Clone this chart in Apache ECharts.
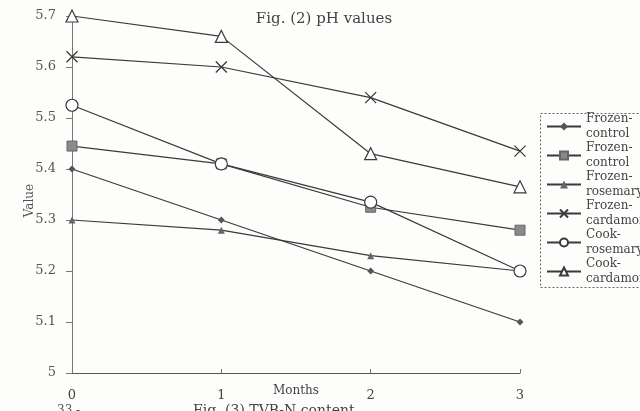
<!DOCTYPE html>
<html>
<head>
<meta charset="utf-8">
<script src="https://cdn.jsdelivr.net/npm/echarts@6/dist/echarts.min.js"></script>
<style>
  html, body { margin: 0; padding: 0; background: #fdfdfc; }
  #chart { width: 640px; height: 411px; }
</style>
</head>
<body>
<div id="chart"></div>
<script>
// Storage months (x axis)
const months = ['0', '1', '2', '3'];

// pH readings per treatment
const frozenControlA = [5.40, 5.30, 5.20, 5.10];
const frozenControlB = [5.445, 5.41, 5.325, 5.28];
const frozenRosemary = [5.30, 5.28, 5.23, 5.20];
const frozenCardamom = [5.62, 5.60, 5.54, 5.435];
const cookRosemary = [5.525, 5.41, 5.335, 5.20];
const cookCardamom = [5.70, 5.66, 5.43, 5.365];

// Legend labels, wrapped the way the printed legend wraps them
const seriesNames = [
  'Frozen-\ncontrol',
  'Frozen-\ncontrol ',
  'Frozen-\nrosemary',
  'Frozen-\ncardamom',
  'Cook-\nrosemary',
  'Cook-\ncardamom'
];

const SERIF = '"DejaVu Serif", "Liberation Serif", serif';
const INK = '#3a3a3a';
const CROSS = 'path://M0,0L10,10M10,0L0,10';

function lineSeries(name, data, symbol, size, itemStyle) {
  return {
    name: name,
    type: 'line',
    data: data,
    symbol: symbol,
    symbolSize: size,
    showAllSymbol: true,
    lineStyle: { color: INK, width: 1.2 },
    itemStyle: itemStyle,
    emphasis: { disabled: true },
    animation: false
  };
}

const chart = echarts.init(document.getElementById('chart'), null, { renderer: 'canvas' });

chart.setOption({
  backgroundColor: '#fdfdfc',
  animation: false,
  title: {
    text: 'Fig. (2) pH values',
    left: 319,
    textAlign: 'center',
    top: 7,
    textStyle: { fontFamily: SERIF, fontSize: 15, fontWeight: 'normal', color: '#444' }
  },
  grid: { left: 72, right: 120, top: 16, bottom: 38 },
  legend: {
    orient: 'vertical',
    left: 546,
    top: 104,
    padding: 0,
    itemGap: -16,
    itemWidth: 34,
    itemHeight: 10,
    selectedMode: false,
    textStyle: {
      fontFamily: SERIF,
      fontSize: 12,
      color: '#444',
      lineHeight: 15,
      padding: [15, 0, 0, 0]
    },
    formatter: function (n) { return n.replace(/ $/, ''); },
    data: seriesNames
  },
  xAxis: {
    type: 'category',
    data: months,
    boundaryGap: false,
    name: 'Months',
    nameLocation: 'middle',
    nameGap: 12,
    nameMoveOverlap: false,
    nameTextStyle: { fontFamily: SERIF, fontSize: 12, color: '#444' },
    axisLine: { lineStyle: { color: '#555', width: 1 } },
    axisTick: { inside: true, length: 4, lineStyle: { color: '#777' } },
    axisLabel: { margin: 16, fontFamily: SERIF, fontSize: 13, color: '#444' },
    splitLine: { show: false }
  },
  yAxis: {
    type: 'value',
    min: 5,
    max: 5.7,
    interval: 0.1,
    name: 'Value',
    nameLocation: 'middle',
    nameGap: 36,
    nameMoveOverlap: false,
    nameTextStyle: { fontFamily: SERIF, fontSize: 12, color: '#555', padding: [0, 12, 0, 0] },
    axisLine: { show: true, lineStyle: { color: '#777', width: 1 } },
    axisTick: { show: true, length: 6, lineStyle: { color: '#777' } },
    axisLabel: {
      margin: 16,
      fontFamily: SERIF,
      fontSize: 13,
      color: '#555',
      formatter: function (v) { return Number(v.toFixed(1)).toString(); }
    },
    splitLine: { show: false }
  },
  graphic: [
    // legend frame
    {
      type: 'rect',
      shape: { x: 540.5, y: 113.5, width: 110, height: 174 },
      style: { fill: 'none', stroke: '#666', lineWidth: 1, lineDash: [2, 2] },
      z: 1
    },
    // neighbouring captions on the printed page
    {
      type: 'text',
      left: 279, top: -10,
      style: { text: 'Months', font: '12px ' + SERIF, fill: '#555' }
    },
    {
      type: 'text',
      left: 193, top: 404,
      style: { text: 'Fig. (3) TVB-N content', font: '14px ' + SERIF, fill: '#444' }
    },
    {
      type: 'text',
      left: 57, top: 405,
      style: { text: '33 -', font: '12px ' + SERIF, fill: '#555' }
    }
  ],
  series: [
    lineSeries(seriesNames[0], frozenControlA, 'diamond', 7, { color: '#555' }),
    lineSeries(seriesNames[1], frozenControlB, 'rect', 10, { color: '#8a8a8a', borderColor: '#666', borderWidth: 1 }),
    lineSeries(seriesNames[2], frozenRosemary, 'triangle', 7, { color: '#666' }),
    lineSeries(seriesNames[3], frozenCardamom, CROSS, 11, { color: 'transparent', borderColor: INK, borderWidth: 1.3 }),
    lineSeries(seriesNames[4], cookRosemary, 'circle', 12, { color: '#fff', borderColor: INK, borderWidth: 1.2 }),
    lineSeries(seriesNames[5], cookCardamom, 'triangle', 12, { color: '#fff', borderColor: INK, borderWidth: 1.2 })
  ]
});
</script>
</body>
</html>
